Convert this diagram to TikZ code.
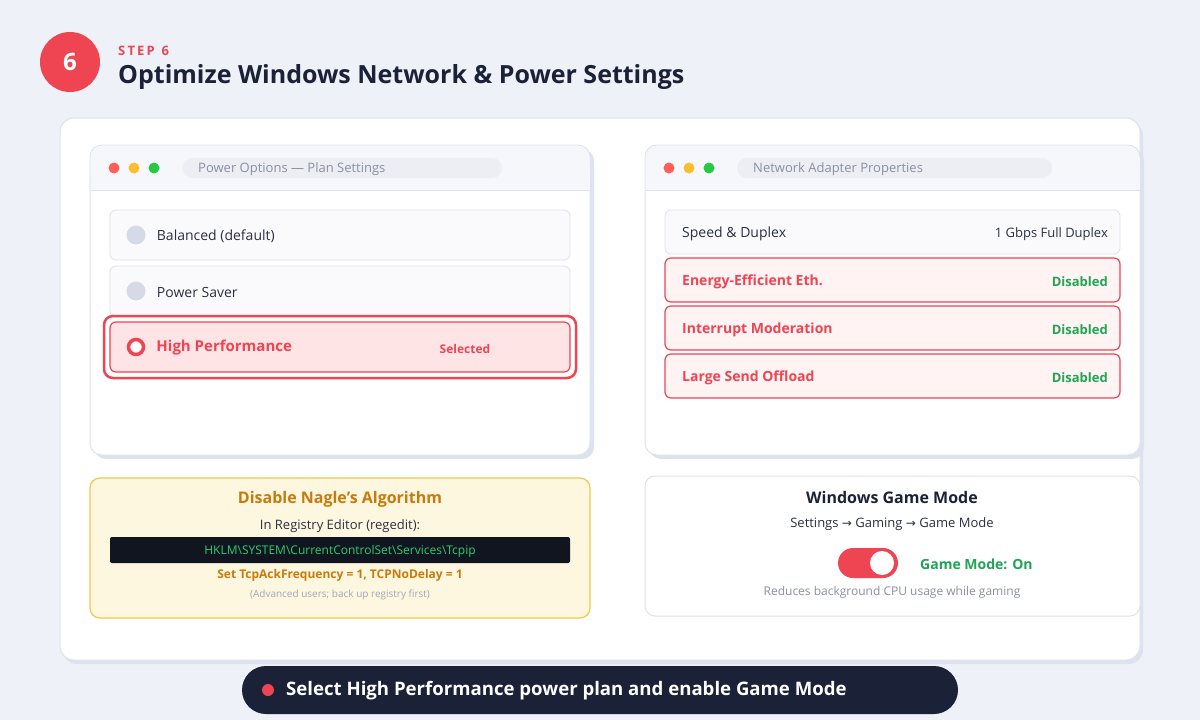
\documentclass[tikz,border=0pt]{standalone}
\usepackage{fontspec}
\usetikzlibrary{positioning}
\setmainfont{Open Sans}
\newfontfamily\symfont{DejaVu Sans}
\definecolor{bgcol}{HTML}{EEF1F8}
\definecolor{redcol}{HTML}{EF4452}
\definecolor{darkcol}{HTML}{1B2238}
\definecolor{linecol}{HTML}{DDE2EE}
\definecolor{barcol}{HTML}{F6F7FB}
\definecolor{pillcol}{HTML}{ECEEF4}
\definecolor{graycol}{HTML}{8A90A2}
\definecolor{textcol}{HTML}{2A3042}
\definecolor{greencol}{HTML}{1FA555}
\definecolor{pinkcol}{HTML}{FFE4E6}
\definecolor{lightpink}{HTML}{FFF3F4}
\definecolor{radiocol}{HTML}{D5D9E8}
\definecolor{nagcol}{HTML}{FEF7E0}
\definecolor{nagline}{HTML}{F0C94A}
\definecolor{orangecol}{HTML}{C87A0A}
\definecolor{termcol}{HTML}{111520}
\definecolor{termtext}{HTML}{2ECC71}
\tikzset{
  fs/.style={font=\fontsize{#1}{#1}\selectfont},
  card/.style={fill=white, draw=linecol, line width=1pt, rounded corners=12pt},
  shadowbox/.style={fill=linecol, rounded corners=12pt},
  rowbox/.style={fill=barcol!60, draw=linecol, line width=0.8pt, rounded corners=6pt},
  hotrow/.style={fill=pinkcol, draw=redcol, line width=1.2pt, rounded corners=6pt},
  pill/.style={fill=pillcol, rounded corners=10pt},
  lbl/.style={anchor=west, inner sep=0pt, text=textcol, fs=14},
  hotlbl/.style={anchor=west, inner sep=0pt, text=redcol, font=\bfseries\fontsize{14}{14}\selectfont},
  offlbl/.style={anchor=east, inner sep=0pt, text=greencol, font=\bfseries\fontsize{13}{13}\selectfont},
  radio/.style={circle, fill=radiocol, minimum size=19pt, inner sep=0pt},
}
\begin{document}
\begin{tikzpicture}[x=1pt,y=-1pt]
  % background
  \fill[bgcol] (0,0) rectangle (1200,720);
  \useasboundingbox (0,0) rectangle (1200,720);

  % header
  \node[circle, fill=redcol, minimum size=60pt, text=white, font=\bfseries\fontsize{24}{24}\selectfont] (stepnum) at (70,62) {6};
  \node[anchor=west, inner sep=0pt, text=redcol, font=\bfseries\fontsize{13}{13}\selectfont] (steplbl) at (118,51) {S\,T\,E\,P\ \ 6};
  \node[anchor=west, inner sep=0pt, text=darkcol, font=\bfseries\fontsize{25}{25}\selectfont] (title) at (118,77) {Optimize Windows Network \& Power Settings};

  % main card
  \fill[linecol, rounded corners=14pt] (63,122) rectangle (1143,664);
  \draw[card, rounded corners=14pt] (60,118) rectangle (1140,660);

  % power options window
  \fill[shadowbox] (94,149) rectangle (594,459);
  \draw[card] (90,145) rectangle (590,455);
  \fill[barcol, rounded corners=12pt] (90.5,145.5) rectangle (589.5,189);
  \fill[barcol] (90.5,170) rectangle (589.5,190);
  \draw[linecol] (90.5,190) -- (589.5,190);
  \foreach \c [count=\i] in {FF5F57,FEBC2E,28C840} {
    \definecolor{dotcol}{HTML}{\c}
    \fill[dotcol] (94+20*\i,168) circle (5.5);
  }
  \fill[pill] (182,158) rectangle (502,178);
  \node[anchor=west, inner sep=0pt, text=graycol, fs=13] (powtitle) at (198,169) {Power Options — Plan Settings};

  \draw[rowbox] (110,210) rectangle (570,260);
  \node[radio] (rbal) at (136,235) {};
  \node[lbl, right=11pt of rbal, yshift=-1pt] (balanced) {Balanced (default)};
  \draw[rowbox] (110,266) rectangle (570,316);
  \node[radio] (rsav) at (136,291) {};
  \node[lbl, right=11pt of rsav, yshift=-1pt] (saver) {Power Saver};
  \draw[redcol, line width=2.5pt, rounded corners=9pt] (104,316) rectangle (576,378);
  \draw[hotrow] (110,322) rectangle (570,372);
  \node[circle, fill=white, draw=redcol, line width=3.5pt, minimum size=15pt, inner sep=0pt] (rhigh) at (136,347) {};
  \node[hotlbl, right=11pt of rhigh, yshift=-1pt, font=\bfseries\fontsize{15}{15}\selectfont] (high) {High Performance};
  \node[inner sep=0pt, text=redcol, font=\bfseries\fontsize{12}{12}\selectfont] (selected) at (465,349) {Selected};

  % network adapter window
  \fill[shadowbox] (649,149) rectangle (1144,459);
  \draw[card] (645,145) rectangle (1140,455);
  \fill[barcol, rounded corners=12pt] (645.5,145.5) rectangle (1139.5,189);
  \fill[barcol] (645.5,170) rectangle (1139.5,190);
  \draw[linecol] (645.5,190) -- (1139.5,190);
  \foreach \c [count=\i] in {FF5F57,FEBC2E,28C840} {
    \definecolor{dotcol}{HTML}{\c}
    \fill[dotcol] (649+20*\i,168) circle (5.5);
  }
  \fill[pill] (737,158) rectangle (1052,178);
  \node[anchor=west, inner sep=0pt, text=graycol, fs=13] (nettitle) at (753,169) {Network Adapter Properties};

  \draw[rowbox] (665,210) rectangle (1120,254);
  \node[lbl] (speed) at (682,234) {Speed \& Duplex};
  \node[anchor=east, inner sep=0pt, text=textcol, fs=13] (duplex) at (1108,234) {1 Gbps Full Duplex};
  \foreach \y/\name/\txt in {258/eee/Energy-Efficient Eth., 306/intmod/Interrupt Moderation, 354/lso/Large Send Offload} {
    \draw[hotrow, fill=lightpink] (665,\y) rectangle (1120,\y+44);
    \node[hotlbl] (\name) at (682,\y+24) {\txt};
    \node[offlbl] (\name off) at (1108,\y+24) {Disabled};
  }

  % nagle box
  \draw[fill=nagcol, draw=nagline, line width=1.2pt, rounded corners=10pt] (90,478) rectangle (590,618);
  \node[text=orangecol, font=\bfseries\fontsize{16}{16}\selectfont] (nagle) at (340,499) {Disable Nagle's Algorithm};
  \node[text=textcol, fs=13, below=6pt of nagle] (regedit) {In Registry Editor (regedit):};
  \fill[termcol, rounded corners=2pt] (110,537) rectangle (570,563);
  \node[text=termtext, fs=12] (regpath) at (340,551) {HKLM\textbackslash SYSTEM\textbackslash CurrentControlSet\textbackslash Services\textbackslash Tcpip};
  \node[text=orangecol, font=\bfseries\fontsize{12}{12}\selectfont] (regset) at (340,575) {Set TcpAckFrequency = 1, TCPNoDelay = 1};
  \node[text=graycol!80, fs=10] (regnote) at (340,595) {(Advanced users; back up registry first)};

  % game mode box
  \draw[card, rounded corners=10pt] (645,476) rectangle (1140,616);
  \node[text=darkcol, font=\bfseries\fontsize{16}{16}\selectfont] (game) at (892,497) {Windows Game Mode};
  \node[text=textcol, fs=13] (gamepath) at (892,524) {Settings {\symfont\fontsize{12}{12}\selectfont→} Gaming {\symfont\fontsize{12}{12}\selectfont→} Game Mode};
  \fill[redcol, rounded corners=15pt] (838,548) rectangle (898,578);
  \node[circle, fill=white, minimum size=24pt, inner sep=0pt] (knob) at (882,563) {};
  \node[anchor=west, inner sep=0pt, text=greencol, font=\bfseries\fontsize{14}{14}\selectfont] (gameon) at (920,564) {Game Mode: On};
  \node[text=graycol, fs=12] (gamenote) at (892,592) {Reduces background CPU usage while gaming};

  % bottom banner
  \fill[darkcol, rounded corners=24pt] (242,666) rectangle (958,714);
  \fill[redcol] (268,690) circle (6);
  \node[anchor=west, inner sep=0pt, text=white, font=\bfseries\fontsize{18.6}{18.6}\selectfont] (banner) at (286,691) {Select High Performance power plan and enable Game Mode};
\end{tikzpicture}
\end{document}
